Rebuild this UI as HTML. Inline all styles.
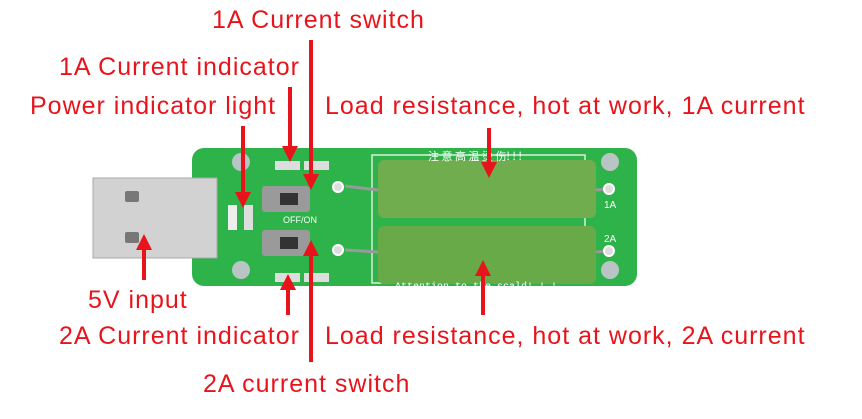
<!DOCTYPE html>
<html><head><meta charset="utf-8"><style>
body{margin:0;width:862px;height:419px;background:#fff;position:relative;overflow:hidden;font-family:"Liberation Sans","Noto Sans CJK SC",sans-serif}
.t{position:absolute;color:#e8141c;font-size:25px;letter-spacing:1px;white-space:nowrap;line-height:26px}
svg{position:absolute;left:0;top:0}
</style></head><body>
<svg width="862" height="419">
<defs><marker id="a" markerWidth="4" markerHeight="4" refX="2" refY="2" orient="auto" markerUnits="strokeWidth"><path d="M0,0 L4,2 L0,4 z" fill="#e8141c"/></marker></defs>
<rect x="192" y="148" width="445" height="138" rx="12" fill="#2eb34a"/>
<rect x="372" y="155" width="213" height="128" fill="none" stroke="#d9f0d9" stroke-width="1.5"/>
<rect x="378" y="160" width="218" height="58" rx="6" fill="#6fad4f"/>
<rect x="378" y="226" width="218" height="58" rx="6" fill="#68aa48"/>
<line x1="345" y1="186" x2="378" y2="190" stroke="#999" stroke-width="3"/>
<line x1="345" y1="250" x2="378" y2="252" stroke="#999" stroke-width="3"/>
<line x1="596" y1="190" x2="608" y2="189" stroke="#999" stroke-width="3"/>
<line x1="596" y1="252" x2="608" y2="251" stroke="#999" stroke-width="3"/>
<circle cx="338" cy="187" r="5" fill="#ddd" stroke="#fff" stroke-width="2"/>
<circle cx="338" cy="250" r="5" fill="#ddd" stroke="#fff" stroke-width="2"/>
<circle cx="609" cy="189" r="5" fill="#ddd" stroke="#fff" stroke-width="2"/>
<circle cx="609" cy="251" r="5" fill="#ddd" stroke="#fff" stroke-width="2"/>
<circle cx="241" cy="162" r="9" fill="#b9c4c4"/>
<circle cx="241" cy="270" r="9" fill="#b9c4c4"/>
<circle cx="610" cy="162" r="9" fill="#b9c4c4"/>
<circle cx="610" cy="270" r="9" fill="#b9c4c4"/>
<rect x="262" y="186" width="48" height="26" rx="3" fill="#9a9a9a"/>
<rect x="262" y="230" width="48" height="26" rx="3" fill="#9a9a9a"/>
<rect x="280" y="193" width="18" height="12" fill="#333"/>
<rect x="280" y="237" width="18" height="12" fill="#333"/>
<rect x="275" y="161" width="25" height="9" fill="#ddd"/>
<rect x="304" y="161" width="25" height="9" fill="#ddd"/>
<rect x="275" y="273" width="25" height="9" fill="#ddd"/>
<rect x="304" y="273" width="25" height="9" fill="#ddd"/>
<rect x="228" y="205" width="9" height="25" fill="#eee"/>
<rect x="244" y="205" width="9" height="25" fill="#ddd"/>
<text x="428" y="160" font-size="11" fill="#fff" font-family="Noto Sans CJK SC">注 意 高 温 烫 伤! ! !</text>
<text x="395" y="289" font-size="10" fill="#fff" font-family="Liberation Mono">Attention to the scald! ! !</text>
<text x="283" y="223" font-size="9" fill="#fff">OFF/ON</text>
<text x="604" y="208" font-size="10" fill="#fff">1A</text>
<text x="604" y="242" font-size="10" fill="#fff">2A</text>
<rect x="93" y="178" width="124" height="80" fill="#d2d2d2"/>
<rect x="93" y="178" width="124" height="80" fill="none" stroke="#aaa"/>
<rect x="125" y="191" width="14" height="11" rx="2" fill="#777"/>
<rect x="125" y="232" width="14" height="11" rx="2" fill="#777"/>
<g stroke="#e8141c" stroke-width="4" fill="none">
<line x1="311" y1="40" x2="311" y2="182" marker-end="url(#a)"/>
<line x1="290" y1="87" x2="290" y2="154" marker-end="url(#a)"/>
<line x1="243" y1="126" x2="243" y2="200" marker-end="url(#a)"/>
<line x1="489" y1="128" x2="489" y2="170" marker-end="url(#a)"/>
<line x1="144" y1="280" x2="144" y2="242" marker-end="url(#a)"/>
<line x1="288" y1="315" x2="288" y2="282" marker-end="url(#a)"/>
<line x1="311" y1="362" x2="311" y2="248" marker-end="url(#a)"/>
<line x1="483" y1="315" x2="483" y2="268" marker-end="url(#a)"/>
</g>
</svg>
<div class="t" style="left:212px;top:7px">1A Current switch</div>
<div class="t" style="left:59px;top:54px">1A Current indicator</div>
<div class="t" style="left:30px;top:93px">Power indicator light</div>
<div class="t" style="left:325px;top:93px">Load resistance, hot at work, 1A current</div>
<div class="t" style="left:88px;top:287px">5V input</div>
<div class="t" style="left:59px;top:323px">2A Current indicator</div>
<div class="t" style="left:325px;top:323px">Load resistance, hot at work, 2A current</div>
<div class="t" style="left:203px;top:371px">2A current switch</div>
</body></html>
